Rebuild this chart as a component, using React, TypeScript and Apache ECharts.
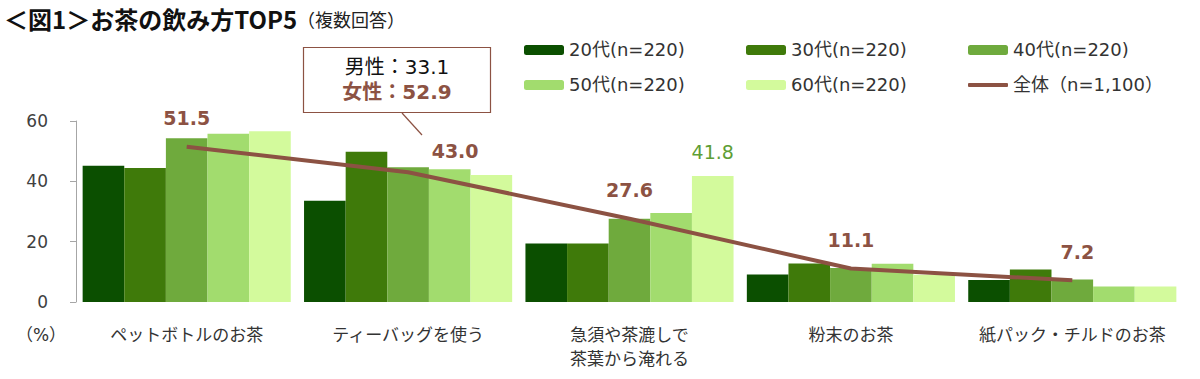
import React, { useEffect, useRef } from "react";
import * as echarts from "echarts";

const categories = [
  "ペットボトルのお茶",
  "ティーバッグを使う",
  "急須や茶漉しで\n茶葉から淹れる",
  "粉末のお茶",
  "紙パック・チルドのお茶",
];
const ageNames = ["20代(n=220)", "30代(n=220)", "40代(n=220)", "50代(n=220)", "60代(n=220)"];
const v20 = [45.2, 33.6, 19.4, 9.1, 7.3];
const v30 = [44.4, 49.8, 19.4, 12.8, 10.8];
const v40 = [54.3, 44.7, 27.6, 11.3, 7.5];
const v50 = [55.8, 44.0, 29.5, 12.7, 5.1];
const v60 = [56.6, 42.1, 41.8, 9.0, 5.1];
const totalName = "全体（n=1,100）";
const total = [51.5, 43.0, 27.6, 11.1, 7.2];
const yTicks = [0, 20, 40, 60];

const barColors = ["#0B4F00", "#3F7A0A", "#6FAA3D", "#A2DC6E", "#D3FA9C"];
const lineColor = "#8C5243";
const JP = "'Noto Sans CJK JP', 'Noto Sans', sans-serif";
const NUM = "'DejaVu Sans', 'Noto Sans CJK JP', sans-serif";

export default function App() {
  const ref = useRef<HTMLDivElement>(null);
  useEffect(() => {
    if (!ref.current) return;
    const chart = echarts.init(ref.current, undefined, { renderer: "svg" });
    const ageData = [v20, v30, v40, v50, v60];
    const barSeries = ageData.map((arr, i) => ({
      name: ageNames[i],
      type: "bar",
      barGap: "0%",
      barCategoryGap: "6%",
      itemStyle: { color: barColors[i] },
      data: arr.map((v, j) =>
        i === 4 && j === 2
          ? {
              value: v,
              label: {
                show: true,
                position: "top",
                distance: 14,
                formatter: (p: any) => p.value.toFixed(1),
                color: "#5E9E35",
                fontSize: 19,
                fontWeight: "normal",
                fontFamily: NUM,
              },
            }
          : v
      ),
      z: 2,
    }));
    const labelOffsets: Record<number, number[]> = { 1: [47, 7], 4: [5, 0] };
    const lineSeries = {
      name: totalName,
      type: "line",
      symbol: "circle",
      symbolSize: 0.1,
      lineStyle: { color: lineColor, width: 4 },
      itemStyle: { color: lineColor },
      z: 5,
      data: total.map((v, j) => ({
        value: v,
        label: {
          show: true,
          position: "top",
          distance: 19,
          offset: labelOffsets[j] || [0, 0],
          formatter: (p: any) => p.value.toFixed(1),
          color: lineColor,
          fontSize: 19,
          fontWeight: "bold",
          fontFamily: NUM,
        },
      })),
    };
    const legendPos = [
      { left: 524, top: 41 },
      { left: 746, top: 41 },
      { left: 968, top: 41 },
      { left: 524, top: 76 },
      { left: 746, top: 76 },
      { left: 968, top: 76 },
    ];
    const allNames = [...ageNames, totalName];
    const legends = allNames.map((n, i) => ({
      data: [i === 5 ? { name: n, icon: "roundRect" } : n],
      left: legendPos[i].left,
      top: legendPos[i].top,
      itemWidth: 40,
      itemHeight: i === 5 ? 4 : 10,
      itemGap: 5,
      padding: 0,
      textStyle: { fontSize: 18, color: "#333", fontFamily: NUM },
    }));
    chart.setOption({
      animation: false,
      textStyle: { fontFamily: JP },
      title: {
        left: 4,
        top: 6,
        padding: 0,
        text: "{a|＜図1＞お茶の飲み方TOP5}{b|（複数回答）}",
        textStyle: {
          rich: {
            a: { fontSize: 24, fontWeight: "bold", color: "#111", fontFamily: JP },
            b: { fontSize: 18, fontWeight: "normal", color: "#222", fontFamily: JP, padding: [3, 0, 0, 0] },
          },
        },
      },
      legend: legends,
      grid: { left: 76, right: 17, top: 121, bottom: 77, containLabel: false },
      xAxis: {
        type: "category",
        data: categories,
        axisLine: { show: false },
        axisTick: { show: false },
        axisLabel: {
          color: "#333",
          fontSize: 17,
          lineHeight: 24,
          margin: 19,
          fontFamily: JP,
          interval: 0,
        },
      },
      yAxis: {
        type: "value",
        min: yTicks[0],
        max: yTicks[yTicks.length - 1],
        interval: 20,
        axisLine: { show: true, lineStyle: { color: "#A6A6A6", width: 1 } },
        axisTick: { show: true, length: 6, lineStyle: { color: "#A6A6A6" } },
        splitLine: { show: false },
        axisLabel: { color: "#404040", fontSize: 17, margin: 28, fontFamily: NUM },
      },
      graphic: [
        {
          type: "text",
          x: 41,
          y: 335,
          style: {
            text: "（%）",
            fontSize: 17,
            fill: "#333",
            fontFamily: NUM,
            align: "center",
            verticalAlign: "middle",
          },
        },
        {
          type: "rect",
          shape: { x: 303.5, y: 47.5, width: 187, height: 65 },
          style: { fill: "#fff", stroke: lineColor, lineWidth: 1.2 },
          z: 10,
        },
        {
          type: "text",
          x: 397,
          y: 67,
          style: {
            text: "男性：33.1",
            fontSize: 20,
            fill: "#111",
            fontFamily: NUM,
            align: "center",
            verticalAlign: "middle",
          },
          z: 11,
        },
        {
          type: "text",
          x: 397,
          y: 92,
          style: {
            text: "女性：52.9",
            fontSize: 20,
            fontWeight: "bold",
            fill: lineColor,
            fontFamily: NUM,
            align: "center",
            verticalAlign: "middle",
          },
          z: 11,
        },
        {
          type: "line",
          shape: { x1: 402, y1: 113, x2: 422, y2: 135 },
          style: { stroke: lineColor, lineWidth: 1.2 },
          z: 10,
        },
      ],
      series: [...barSeries, lineSeries],
    });
    return () => chart.dispose();
  }, []);
  return (
    <div
      ref={ref}
      style={{ position: "fixed", left: 0, top: 0, width: 1200, height: 379, background: "#fff" }}
    />
  );
}
